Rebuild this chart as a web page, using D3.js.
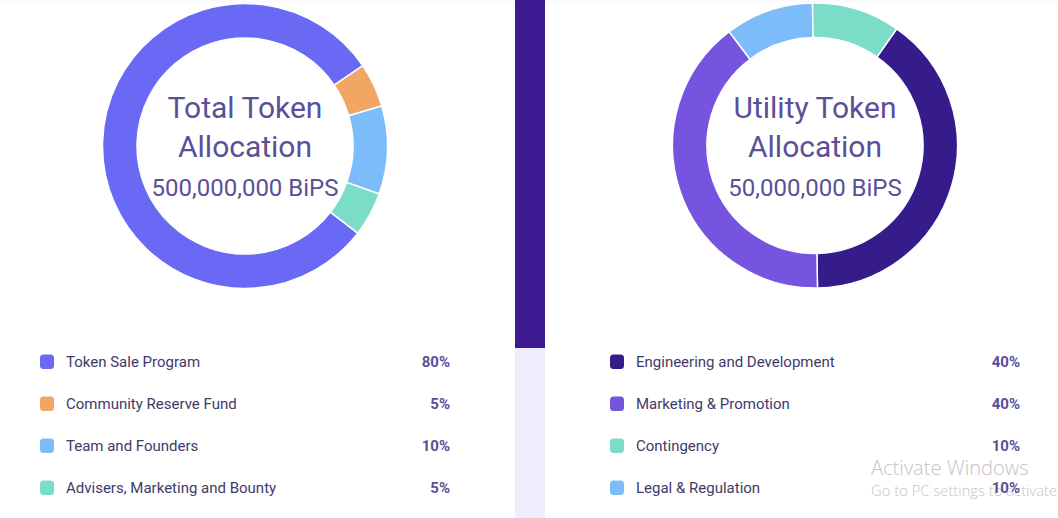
<!DOCTYPE html>
<html>
<head>
<meta charset="utf-8">
<script src="https://cdnjs.cloudflare.com/ajax/libs/d3/7.8.5/d3.min.js"></script>
<style>
  html, body { margin: 0; padding: 0; background: #fff; overflow: hidden; }
  text { font-family: Roboto, sans-serif; }
</style>
</head>
<body>
<div class="canvas"></div>
<script>
const totalLabels = ['Token Sale Program', 'Community Reserve Fund', 'Team and Founders', 'Advisers, Marketing and Bounty'];
const totalValues = [80, 5, 10, 5];
const totalColors = ['#6a69f5', '#f2a663', '#7cbcfb', '#7bdcc8'];
const totalTitle = ['Total Token', 'Allocation', '500,000,000 BiPS'];

const utilityLabels = ['Engineering and Development', 'Marketing & Promotion', 'Contingency', 'Legal & Regulation'];
const utilityValues = [40, 40, 10, 10];
const utilityColors = ['#351c8a', '#7654e0', '#7bdcc8', '#7cbcfb'];
const utilityTitle = ['Utility Token', 'Allocation', '50,000,000 BiPS'];
// ring runs clockwise in this order, legend keeps its own
const utilityRing = [0, 1, 3, 2];

const watermark = ['Activate Windows', 'Go to PC settings to activate'];

const svg = d3
  .select('.canvas')
  .append('svg')
  .attr('width', 1058)
  .attr('height', 518)
  .style('display', 'block');

svg.append('rect').attr('width', 1058).attr('height', 3).attr('fill', '#fbfafe');
svg.append('rect').attr('x', 515).attr('width', 30).attr('height', 518).attr('fill', '#efecfb');
svg.append('rect').attr('x', 515).attr('width', 30).attr('height', 348).attr('fill', '#3d1a92');

const arcPath = d3.arc().outerRadius(142.5).innerRadius(108);
const rad = (deg) => (deg * Math.PI) / 180;

const drawDonut = (cx, cy, startDeg, labels, values, colors, title, ring) => {
  const rows = labels.map((name, i) => ({ name, value: values[i], color: colors[i] }));
  const ordered = ring ? ring.map((i) => rows[i]) : rows;

  const pie = d3
    .pie()
    .sort(null)
    .startAngle(rad(startDeg))
    .endAngle(rad(startDeg + 360))
    .value((d) => d.value);

  const graph = svg.append('g').attr('transform', `translate(${cx}, ${cy})`);

  graph
    .selectAll('path')
    .data(pie(ordered))
    .enter()
    .append('path')
    .attr('d', arcPath)
    .attr('fill', (d) => d.data.color)
    .attr('stroke', '#fff')
    .attr('stroke-width', 1.5);

  graph
    .selectAll('text')
    .data(title)
    .enter()
    .append('text')
    .attr('text-anchor', 'middle')
    .attr('y', (d, i) => [-28, 11, 50][i])
    .attr('font-size', (d, i) => (i < 2 ? 30 : 24))
    .attr('fill', '#5a5097')
    .text((d) => d);
};

const drawLegend = (left, right, labels, values, colors) => {
  const y = d3.scalePoint().domain(labels).range([362, 488]);

  const items = svg
    .append('g')
    .selectAll('g')
    .data(labels)
    .enter()
    .append('g')
    .attr('transform', (d) => `translate(0, ${y(d)})`);

  items
    .append('rect')
    .attr('x', left)
    .attr('y', -7.5)
    .attr('width', 14)
    .attr('height', 14.5)
    .attr('rx', 3.5)
    .attr('fill', (d, i) => colors[i]);

  items
    .append('text')
    .attr('x', left + 26)
    .attr('y', 5)
    .attr('font-size', 15)
    .attr('fill', '#3f3a68')
    .text((d) => d);

  items
    .append('text')
    .attr('x', right)
    .attr('y', 5)
    .attr('text-anchor', 'end')
    .attr('font-size', 15)
    .attr('font-weight', 700)
    .attr('fill', '#5a5097')
    .text((d, i) => `${values[i]}%`);
};

drawDonut(245, 146, 127.7, totalLabels, totalValues, totalColors, totalTitle);
drawDonut(815, 145.5, 35, utilityLabels, utilityValues, utilityColors, utilityTitle, utilityRing);

// the desktop watermark sits under the legend's 10%
svg
  .selectAll('.watermark')
  .data(watermark)
  .enter()
  .append('text')
  .attr('class', 'watermark')
  .attr('x', 871)
  .attr('y', (d, i) => [475, 496][i])
  .attr('font-size', (d, i) => [20.1, 14.8][i])
  .attr('font-weight', 300)
  .attr('fill', '#c4c4c4')
  .style('font-family', '"Open Sans", sans-serif')
  .text((d) => d);

drawLegend(40, 450, totalLabels, totalValues, totalColors);
drawLegend(610, 1020, utilityLabels, utilityValues, utilityColors);
</script>
</body>
</html>
